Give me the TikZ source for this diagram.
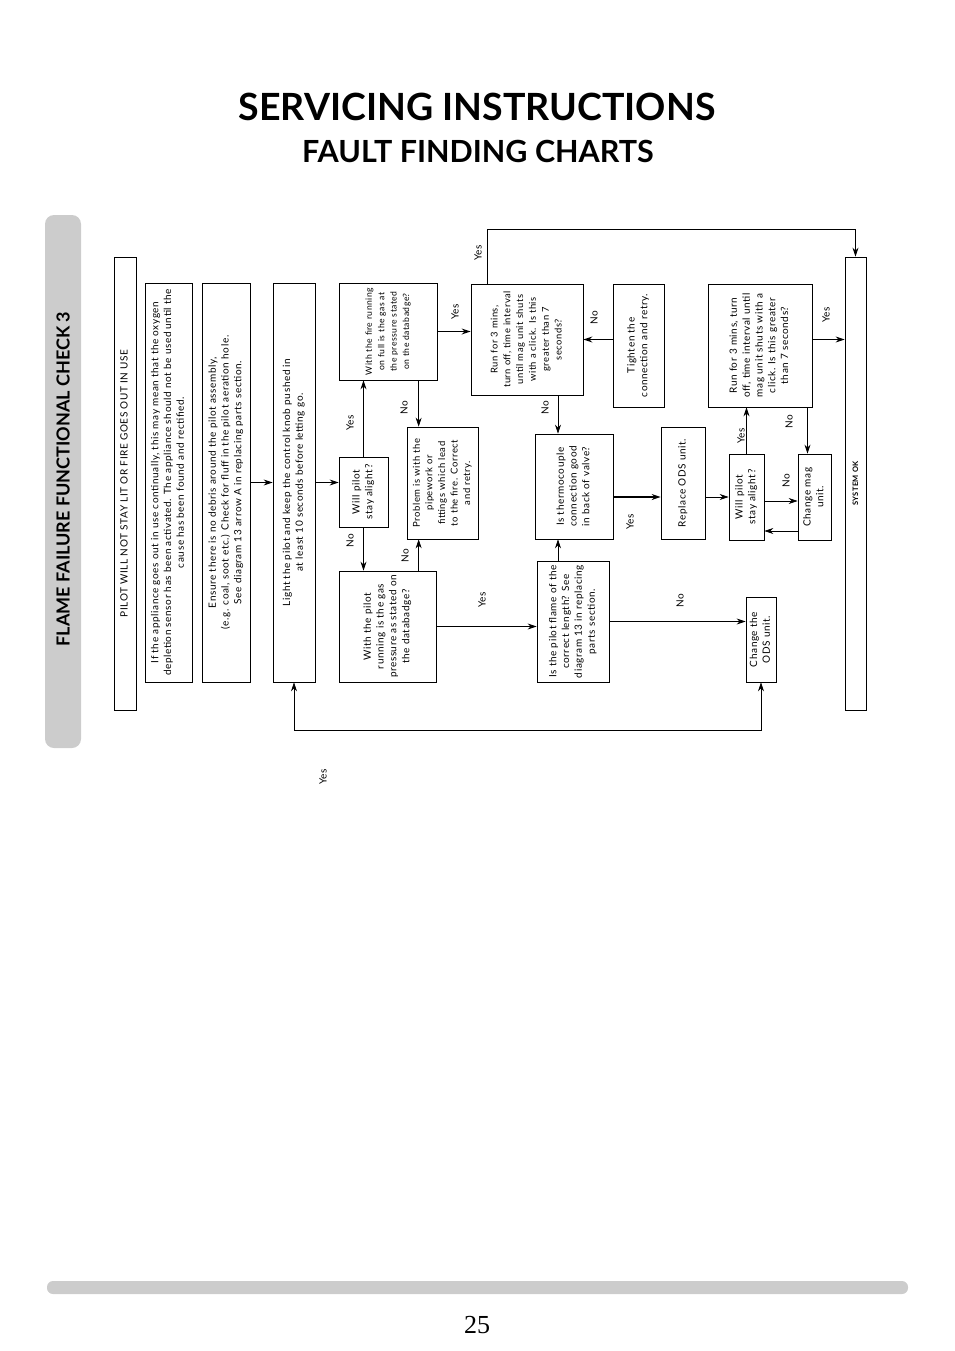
\documentclass[tikz,border=0pt]{standalone}
\usepackage{graphicx}
\usepackage{fontspec}
\setmainfont{Lato}
\newfontfamily\boxfont{Lato}[LetterSpace=6]
\newfontfamily\pagenumfont{Liberation Serif}
\usetikzlibrary{positioning,arrows.meta,shadows}
\newcommand{\vtxt}[1]{\rotatebox{90}{\begin{tabular}{@{}c@{}}#1\end{tabular}}}

\begin{document}
\begin{tikzpicture}[x=1pt,y=1pt,
  every node/.style={font=\boxfont\fontsize{10}{12.8}\selectfont},
  box/.style={draw,fill=white,line width=0.7pt,inner sep=0pt,
    general shadow={fill=black,shadow xshift=1pt,shadow yshift=-1pt}},
  small/.style={font=\boxfont\fontsize{8.6}{12.4}\selectfont},
  sz/.style 2 args={minimum width=#1pt,minimum height=#2pt},
  arr/.style={-{Stealth[length=9pt,width=6pt]},line width=0.7pt},
  fat/.style={line width=1.4pt},
  lbl/.style={rotate=90,font=\boxfont\fontsize{10}{12}\selectfont}]
  \useasboundingbox (0,0) rectangle (954,-1351);

  % page heading
  \node[font=\rmfamily\bfseries\fontsize{37.5}{38}\selectfont] (head) at (477,-106.5) {SERVICING INSTRUCTIONS};
  \node[font=\rmfamily\bfseries\fontsize{30.5}{31}\selectfont] (subhead) at (478,-151) {FAULT FINDING CHARTS};

  % side tab and footer bar
  \fill[black!20,rounded corners=9pt] (45,-215) rectangle (81,-748);
  \node[rotate=90,font=\rmfamily\bfseries\fontsize{18}{18}\selectfont] (tab) at (63,-479) {FLAME FAILURE FUNCTIONAL CHECK 3};
  \fill[black!20,rounded corners=6pt] (47,-1281) rectangle (908,-1294);
  \node[font=\pagenumfont\fontsize{26}{26}\selectfont] (pnum) at (477,-1325) {25};

  % boxes
  \node[box,sz={22}{453}] (start) at (125,-483.5) {\vtxt{PILOT WILL NOT STAY LIT OR FIRE GOES OUT IN USE}};
  \node[box,sz={47}{399}] (oxy) at (168.5,-482.5) {\vtxt{If the appliance goes out in use continually, this may mean that the oxygen\\
    depletion sensor has been activated. The appliance should not be used until the\\ cause has been found and rectified.}};
  \node[box,sz={48}{399}] (debris) at (226,-482.5) {\vtxt{Ensure there is no debris around the pilot assembly,\\
    (e.g. coal, soot etc.) Check for fluff in the pilot aeration hole.\\ See diagram 13 arrow A in replacing parts section.}};
  \node[box,sz={42}{399}] (light) at (294,-482.5) {\vtxt{Light the pilot and keep the control knob pushed in\\ at least 10 seconds before letting go.}};
  \node[box,small,sz={98}{97}] (fire) at (388,-331.5) {\vtxt{With the fire running\\ on full is the gas at\\ the pressure stated\\ on the databadge?}};
  \node[box,sz={49}{70}] (stayA) at (363.5,-492) {\vtxt{Will pilot\\ stay alight?}};
  \node[box,sz={71}{112},font=\boxfont\fontsize{9.5}{12.6}\selectfont] (pipe) at (442.5,-483) {\vtxt{Problem is with the\\ pipework or\\ fittings which lead\\ to the fire. Correct\\ and retry.}};
  \node[box,sz={97}{111}] (pgas) at (387.5,-626.5) {\vtxt{With the pilot\\ running is the gas\\ pressure as stated on\\ the databadge?}};
  \node[box,sz={112}{111},font=\boxfont\fontsize{9.4}{12.8}\selectfont] (runA) at (527,-339.5) {\vtxt{Run for 3 mins,\\ turn off, time interval\\ until mag unit shuts\\ with a click. Is this\\ greater than 7\\ seconds?}};
  \node[box,sz={51}{123}] (tighten) at (638.5,-345.5) {\vtxt{Tighten the\\ connection and retry.}};
  \node[box,sz={78}{105}] (thermo) at (574,-486.5) {\vtxt{Is thermocouple\\ connection good\\ in back of valve?}};
  \node[box,sz={72}{121}] (flame) at (573,-621.5) {\vtxt{Is the pilot flame of the\\ correct length? See\\ diagram 13 in replacing\\ parts section.}};
  \node[box,sz={44}{112}] (replace) at (683,-483) {\vtxt{Replace ODS unit.}};
  \node[box,sz={35}{86}] (stayB) at (746.5,-497) {\vtxt{Will pilot\\ stay alight?}};
  \node[box,sz={33}{86}] (mag) at (814.5,-497) {\vtxt{Change mag\\ unit.}};
  \node[box,sz={104}{123}] (runB) at (760,-345.5) {\vtxt{Run for 3 mins, turn\\ off, time interval until\\ mag unit shuts with a\\ click. Is this greater\\ than 7 seconds?}};
  \node[box,sz={30}{85}] (ods) at (761,-639.5) {\vtxt{Change the\\ ODS unit.}};
  \node[box,sz={21}{453}] (ok) at (855.5,-483.5) {\vtxt{\bfseries\fontsize{7.5}{9}\selectfont SYSTEM OK}};

  % helper points on box edges
  \coordinate (pb) at ([xshift=12pt]pipe.north west);
  \coordinate (tc) at ([xshift=-16pt]thermo.north);
  \coordinate (mt) at ([xshift=-7pt]mag.north);

  % connectors
  \draw[arr] (debris.east) -- (debris.east -| light.west);
  \draw[arr] (light.east) -- (light.east -| stayA.west);
  \draw[arr] (stayA.north) -- (stayA.north |- fire.south);
  \draw[arr] (stayA.south) -- (stayA.south |- pgas.north);
  \draw[arr] (pb |- fire.south) -- (pb);
  \draw[arr] (pb |- pgas.north) -- (pb |- pipe.south);
  \draw[arr,fat] (fire.east) -- (fire.east -| runA.west);
  \draw[arr] (pgas.east) -- (pgas.east -| flame.west);
  \draw[arr] (tc |- runA.south) -- (tc);
  \draw[arr] (tc |- flame.north) -- (tc |- thermo.south);
  \draw[arr,fat] (runA.east -| tighten.west) -- (runA.east);
  \draw[arr,fat] (thermo.east |- stayB.west) -- (replace.west |- stayB.west);
  \draw[arr] (flame.east) -- (flame.east -| ods.west);
  \draw[arr] (replace.east |- stayB.west) -- (stayB.west);
  \draw[arr] (stayB.north) -- (stayB.north |- runB.south);
  \draw[arr] ([yshift=-4pt]stayB.east) -- ([yshift=-4pt]mag.west);
  \draw[arr] ([yshift=-34pt]mag.west) -- ([yshift=-34pt]stayB.east);
  \draw[arr] (mt |- runB.south) -- (mt);
  \draw[arr] ([yshift=6pt]runB.east) -- ([yshift=6pt]runB.east -| ok.west);
  \draw[arr] ([xshift=17pt]runA.north west) -- ++(0,54) -| (ok.north);
  \draw[{Stealth[length=9pt,width=6pt]}-{Stealth[length=9pt,width=6pt]},line width=0.7pt]
    (light.south) -- ++(0,-48) -| (ods.south);

  % yes / no labels
  \foreach \x/\y/\t [count=\i] in {478/253/Yes, 455/312/Yes, 350/423/Yes, 350/541/No,
      404/408/No, 405/556/No, 482/600/Yes, 545/408/No, 594/318/No, 630/522/Yes,
      680/601/No, 741/436/Yes, 786/481/No, 789/422/No, 826/315/Yes, 323/777/Yes}
    \node[lbl] (lab\i) at (\x,-\y) {\t};
\end{tikzpicture}
\end{document}
